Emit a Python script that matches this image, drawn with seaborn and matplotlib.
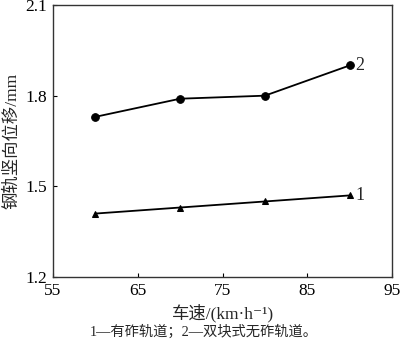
import matplotlib
matplotlib.use("Agg")
import matplotlib.pyplot as plt
import seaborn as sns
import pandas as pd

speed = [60, 70, 80, 90]
ballast = [1.41, 1.43, 1.45, 1.47]          # 1 有砟轨道
ballastless = [1.73, 1.79, 1.80, 1.90]      # 2 双块式无砟轨道
xticks = [55, 65, 75, 85, 95]
yticks = [1.2, 1.5, 1.8, 2.1]

sns.set_theme(style="ticks")
fams = ['Liberation Serif', 'Noto Sans CJK SC', 'DejaVu Sans']
plt.rcParams['font.family'] = fams

fig = plt.figure(figsize=(4.0, 3.45), dpi=100)
ax = fig.add_axes([0.1325, 0.197, 0.8475, 0.7885])

df = pd.DataFrame({
    "speed": speed * 2,
    "disp": ballast + ballastless,
    "track": ["1"] * 4 + ["2"] * 4,
})
sns.lineplot(data=df[df.track == "1"], x="speed", y="disp", ax=ax, color="black",
             marker="^", markersize=5, linewidth=1.3, markeredgecolor="black")
sns.lineplot(data=df[df.track == "2"], x="speed", y="disp", ax=ax, color="black",
             marker="o", markersize=5.5, linewidth=1.3, markeredgecolor="black")

ax.annotate("1", (speed[-1], ballast[-1]), xytext=(4, 0), textcoords="offset points",
            ha="left", va="center", fontsize=13, family=fams)
ax.annotate("2", (speed[-1], ballastless[-1]), xytext=(4, 0), textcoords="offset points",
            ha="left", va="center", fontsize=13, family=fams)

ax.set_xlim(55, 95)
ax.set_ylim(1.2, 2.1)
ax.set_xticks(xticks)
ax.set_yticks(yticks)
ax.set_xticklabels([str(v) for v in xticks])
ax.set_yticklabels([f"{v:.1f}" for v in yticks])
ax.tick_params(direction="in", length=3, width=0.8, labelsize=12.5, colors="black", pad=4)
for s in ax.spines.values():
    s.set_visible(True)
    s.set_color("#333333")
    s.set_linewidth(1.0)

ax.set_xlabel("车速/(km·h⁻¹)", fontsize=12.5, labelpad=4)
ax.set_ylabel("钢轨竖向位移/mm", fontsize=12.5, labelpad=4)
fig.text(0.51, 0.038, "1—有砟轨道；2—双块式无砟轨道。", ha="center", va="center", fontsize=10.3)

fig.savefig("out.png", dpi=100)
